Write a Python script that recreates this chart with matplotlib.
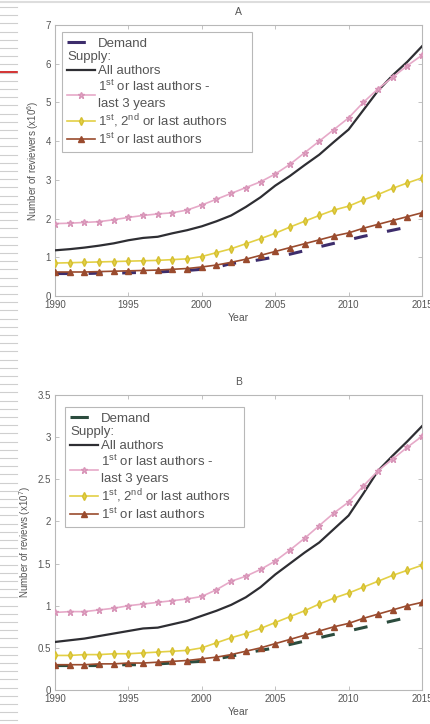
import matplotlib
matplotlib.use("Agg")
import matplotlib.pyplot as plt
import matplotlib.transforms as mtransforms
from matplotlib.lines import Line2D
from matplotlib.ticker import FuncFormatter

plt.rcParams['font.family'] = ['Liberation Sans', 'DejaVu Sans']
plt.rcParams['mathtext.fontset'] = 'custom'
plt.rcParams['mathtext.rm'] = 'Liberation Sans'

years = list(range(1990, 2016))
demand_years = list(range(1990, 2015))

# Panel A: number of reviewers (x10^6)
a_all = [1.18, 1.21, 1.25, 1.30, 1.36, 1.44, 1.50, 1.53, 1.62, 1.70, 1.80, 1.93, 2.08,
         2.30, 2.55, 2.85, 3.10, 3.38, 3.65, 3.98, 4.30, 4.80, 5.30, 5.70, 6.05, 6.45]
a_last3 = [1.87, 1.88, 1.90, 1.92, 1.97, 2.03, 2.08, 2.12, 2.15, 2.22, 2.35, 2.50, 2.65,
           2.80, 2.95, 3.15, 3.40, 3.70, 4.00, 4.30, 4.60, 5.00, 5.35, 5.65, 5.95, 6.22]
a_first2last = [0.85, 0.86, 0.87, 0.88, 0.89, 0.90, 0.91, 0.92, 0.94, 0.96, 1.02, 1.12, 1.22,
                1.35, 1.48, 1.62, 1.78, 1.93, 2.08, 2.22, 2.32, 2.48, 2.62, 2.78, 2.92, 3.05]
a_firstlast = [0.62, 0.62, 0.62, 0.63, 0.64, 0.65, 0.66, 0.67, 0.69, 0.71, 0.75, 0.80, 0.87,
               0.95, 1.05, 1.15, 1.25, 1.35, 1.45, 1.55, 1.63, 1.75, 1.85, 1.95, 2.05, 2.15]
a_demand = [0.58, 0.58, 0.58, 0.59, 0.59, 0.60, 0.61, 0.62, 0.64, 0.66, 0.69, 0.74, 0.84,
            0.88, 0.94, 1.01, 1.08, 1.17, 1.27, 1.36, 1.45, 1.54, 1.62, 1.70, 1.78]

# Panel B: number of reviews (x10^7)
b_all = [0.57, 0.59, 0.61, 0.64, 0.67, 0.70, 0.73, 0.74, 0.78, 0.82, 0.88, 0.94, 1.01,
         1.10, 1.22, 1.37, 1.50, 1.63, 1.75, 1.91, 2.07, 2.33, 2.60, 2.78, 2.95, 3.13]
b_last3 = [0.92, 0.93, 0.93, 0.95, 0.97, 1.00, 1.02, 1.04, 1.06, 1.08, 1.11, 1.19, 1.29,
           1.35, 1.43, 1.53, 1.66, 1.80, 1.95, 2.10, 2.23, 2.42, 2.60, 2.74, 2.88, 3.01]
b_first2last = [0.41, 0.41, 0.42, 0.42, 0.43, 0.43, 0.44, 0.45, 0.46, 0.47, 0.50, 0.56, 0.62,
                0.67, 0.73, 0.80, 0.87, 0.94, 1.02, 1.09, 1.15, 1.22, 1.29, 1.36, 1.42, 1.48]
b_firstlast = [0.30, 0.30, 0.30, 0.31, 0.31, 0.32, 0.32, 0.33, 0.34, 0.35, 0.37, 0.39, 0.42,
               0.46, 0.50, 0.55, 0.60, 0.65, 0.70, 0.75, 0.79, 0.85, 0.90, 0.95, 1.00, 1.04]
b_demand = [0.29, 0.29, 0.29, 0.29, 0.30, 0.30, 0.30, 0.31, 0.32, 0.33, 0.34, 0.37, 0.40,
            0.44, 0.47, 0.50, 0.54, 0.58, 0.62, 0.66, 0.70, 0.74, 0.78, 0.82, 0.86]

x_ticks = [1990, 1995, 2000, 2005, 2010, 2015]
a_yticks = [0, 1, 2, 3, 4, 5, 6, 7]
b_yticks = [0, 0.5, 1, 1.5, 2, 2.5, 3, 3.5]

labels = ["Demand", "Supply:", "All authors",
          "1$^{\\rm st}$ or last authors -\nlast 3 years",
          "1$^{\\rm st}$, 2$^{\\rm nd}$ or last authors",
          "1$^{\\rm st}$ or last authors"]

C_ALL = "#2e2e33"
C_PINK = "#e6a9c8"
C_YEL = "#e3d046"
C_BROWN = "#9a4b2e"
C_AXIS = "#b8b8b8"
C_TXT = "#555555"

W, H = 430, 724
fig = plt.figure(figsize=(W / 100, H / 100), dpi=100)

# page-edge decoration on the left
for k in range(88):
    yy = 7 + 8.2 * k
    if yy > H:
        break
    fig.add_artist(Line2D([0, 17 / W], [1 - yy / H] * 2, color="#cfcfcf", lw=0.8))
fig.add_artist(Line2D([0, 17 / W], [1 - 72 / H] * 2, color="#cc1111", lw=1.2))
fig.add_artist(Line2D([0, 1], [1 - 2 / H] * 2, color="#dddddd", lw=1.5))


def panel(rect, title, ylabel, ymax, yticks, all_, last3, f2l, fl, dem, dem_color,
          anchor, pad_spaces):
    ax = fig.add_axes(rect)
    ax.plot(demand_years, dem, color=dem_color, lw=2.2, dashes=(4.5, 6.5), zorder=2)
    ax.plot(years, all_, color=C_ALL, lw=1.6, zorder=3)
    ax.plot(years, last3, color=C_PINK, lw=1.2, marker="*", ms=5, mfc=C_PINK,
            mec="#d895b8", zorder=3)
    ax.plot(years, f2l, color=C_YEL, lw=1.2, marker="d", ms=4, mfc=C_YEL,
            mec="#d5bf30", zorder=3)
    ax.plot(years, fl, color=C_BROWN, lw=1.2, marker="^", ms=4, mfc=C_BROWN,
            mec=C_BROWN, zorder=4)
    ax.set_xlim(1990, 2015)
    ax.set_ylim(0, ymax)
    ax.set_xticks(x_ticks)
    ax.set_yticks(yticks)
    ax.yaxis.set_major_formatter(FuncFormatter(lambda v, p: f"{v:g}"))
    ax.tick_params(direction="in", length=3, width=0.6, color=C_AXIS, labelsize=7,
                   labelcolor=C_TXT, top=True, right=True, pad=3)
    for s in ax.spines.values():
        s.set_color(C_AXIS)
        s.set_linewidth(0.8)
    ax.set_title(title, fontsize=7.5, color=C_TXT, pad=7)
    ax.set_xlabel("Year", fontsize=7.5, color=C_TXT, labelpad=2)
    ax.set_ylabel(ylabel, fontsize=7, color=C_TXT, labelpad=3)

    handles = [Line2D([], [], color=dem_color, lw=2.2, dashes=(6.0, 8)),
               Line2D([], [], linestyle="none"),
               Line2D([], [], color=C_ALL, lw=1.6),
               Line2D([], [], color=C_PINK, lw=1.2, marker="*", ms=5, mec="#d895b8"),
               Line2D([], [], color=C_YEL, lw=1.2, marker="d", ms=4, mec="#d5bf30"),
               Line2D([], [], color=C_BROWN, lw=1.2, marker="^", ms=4)]
    labs = list(labels)
    labs[4] = labs[4] + " " * pad_spaces
    hl, htp, fs = 2.1, 0.25, 9.5
    leg = ax.legend(handles, labs, loc="upper left", bbox_to_anchor=anchor,
                    fontsize=fs, handlelength=hl, handletextpad=htp, labelspacing=0.13,
                    borderpad=0.4, frameon=True, fancybox=False, framealpha=1,
                    edgecolor=C_AXIS, borderaxespad=0.0)
    leg.get_frame().set_linewidth(0.8)
    for t in leg.get_texts():
        t.set_color(C_TXT)
    leg.get_texts()[3].set_linespacing(1.45)
    sup = leg.get_texts()[1]
    shift = mtransforms.ScaledTranslation(-(hl + htp) * fs / 72, 0, fig.dpi_scale_trans)
    sup.set_transform(sup.get_transform() + shift)
    return ax


panel([55 / W, 1 - 296 / H, 367 / W, 271 / H], "A", "Number of reviewers (x10$^{6}$)",
      7, a_yticks, a_all, a_last3, a_first2last, a_firstlast, a_demand, "#3d2d6c",
      (7 / 367, 1 - 7 / 271), 6)
panel([55 / W, 1 - 690 / H, 367 / W, 295 / H], "B", "Number of reviews (x10$^{7}$)",
      3.5, b_yticks, b_all, b_last3, b_first2last, b_firstlast, b_demand, "#2c4c3e",
      (10 / 367, 1 - 12 / 295), 3)

fig.savefig("out.png", dpi=100)
